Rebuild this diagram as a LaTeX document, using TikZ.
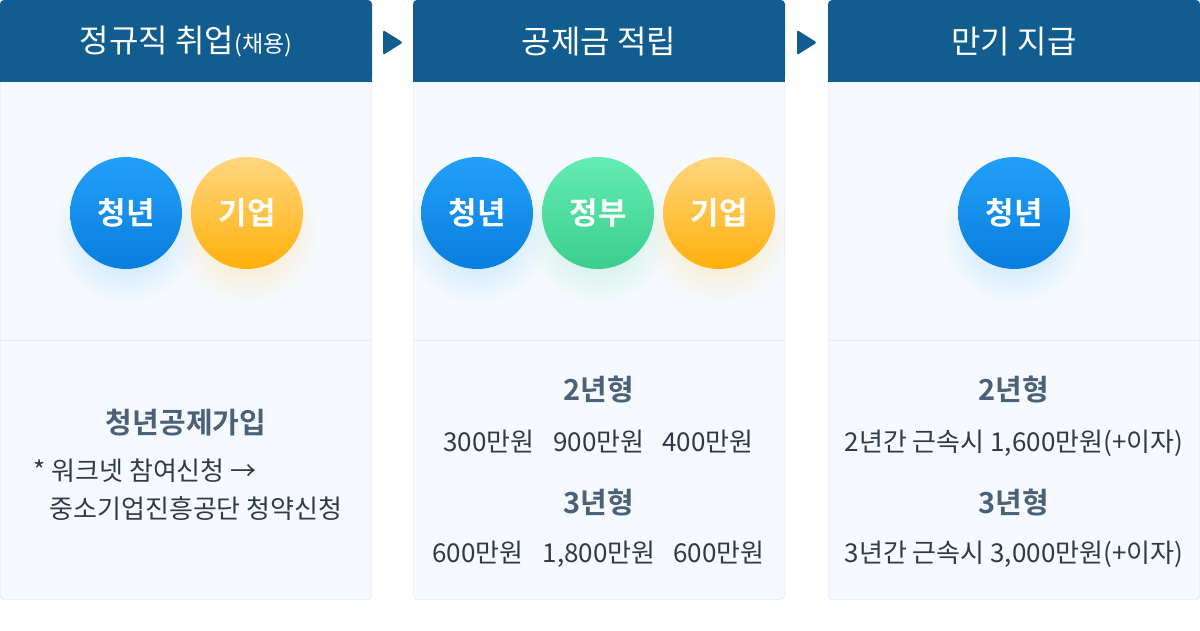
\documentclass[tikz,border=0pt]{standalone}
\usepackage{fontspec}
\setmainfont{Noto Sans CJK KR}[BoldFont={Noto Sans CJK KR Bold}]
\usetikzlibrary{positioning,fadings}

\definecolor{headblue}{RGB}{18,93,143}
\definecolor{bodybg}{RGB}{246,250,254}
\definecolor{bodyline}{RGB}{208,225,238}
\definecolor{divline}{RGB}{224,234,242}
\definecolor{titlegray}{RGB}{74,97,120}
\definecolor{textdark}{RGB}{48,58,70}
\definecolor{blueTop}{RGB}{34,160,248}
\definecolor{blueBot}{RGB}{8,126,222}
\definecolor{greenTop}{RGB}{100,236,180}
\definecolor{greenBot}{RGB}{58,206,140}
\definecolor{orangeTop}{RGB}{255,214,128}
\definecolor{orangeBot}{RGB}{255,176,10}

\tikzfading[name=glowfade, inner color=transparent!0, outer color=transparent!100]

\begin{document}
\begin{tikzpicture}[x=1pt, y=-1pt,
    headtext/.style={text=white, font=\fontsize{32}{36}\selectfont},
    bubble/.style={circle, minimum size=112pt, inner sep=0pt, text=white,
                   font=\bfseries\fontsize{31}{34}\selectfont},
    youth/.style={bubble, top color=blueTop, bottom color=blueBot},
    gov/.style={bubble, top color=greenTop, bottom color=greenBot},
    firm/.style={bubble, top color=orangeTop, bottom color=orangeBot},
    kind/.style={text=titlegray, text height=0.8em, text depth=0.2em,
                 font=\bfseries\fontsize{29}{32}\selectfont},
    amount/.style={text=textdark, text height=0.8em, text depth=0.2em,
                   font=\fontsize{26}{30}\selectfont}]
    \useasboundingbox (0,0) rectangle (1200,631);
    \fill[white] (0,0) rectangle (1200,631);

    % panels: body, divider and header
    \foreach \x in {0,413,828} {
        \draw[bodyline, fill=bodybg, rounded corners=4pt] (\x+0.5,60) rectangle (\x+371.5,599.5);
        \draw[divline] (\x+1,340) -- (\x+371,340);
        \fill[headblue, rounded corners=4pt] (\x,0) rectangle (\x+372,82);
        \fill[headblue] (\x,50) rectangle (\x+372,82);
    }

    % arrows between panels
    \fill[headblue, rounded corners=1.5pt] (383,30) -- (403,42.5) -- (383,55) -- cycle;
    \fill[headblue, rounded corners=1.5pt] (797,30) -- (817,42.5) -- (797,55) -- cycle;

    % header titles
    \node[headtext] (h1) at (186,42) {정규직 취업{\fontsize{23}{26}\selectfont(채용)}};
    \node[headtext] (h2) at (599,42) {공제금 적립};
    \node[headtext] (h3) at (1014,42) {만기 지급};

    % soft glow under the circles
    \foreach \cx/\col in {126/blueTop, 247/orangeBot, 477/blueTop, 598/greenBot, 719/orangeBot, 1014/blueTop}
        \fill[\col, opacity=0.3, path fading=glowfade] (\cx,232) circle (72);

    % circles
    \node[youth] (y1) at (126,213) {청년};
    \node[firm]  (f1) at (247,213) {기업};
    \node[youth] (y2) at (477,213) {청년};
    \node[gov]   (g2) at (598,213) {정부};
    \node[firm]  (f2) at (719,213) {기업};
    \node[youth] (y3) at (1014,213) {청년};

    % panel 1 text
    \node[kind] (join) at (186,430) {청년공제가입};
    \node[amount, anchor=west] (note1) at (30,477) {* 워크넷 참여신청 →};
    \node[amount, anchor=west] (note2) at (46,515) {중소기업진흥공단 청약신청};

    % panel 2 text
    \node[kind] (k2a) at (599,397) {2년형};
    \node[amount] (a2y) at (489,448) {300만원};
    \node[amount] (a2g) at (599,448) {900만원};
    \node[amount] (a2f) at (708,448) {400만원};
    \node[kind] (k2b) at (599,510) {3년형};
    \node[amount] (b2y) at (478,559) {600만원};
    \node[amount] (b2g) at (599,559) {1,800만원};
    \node[amount] (b2f) at (719,559) {600만원};

    % panel 3 text
    \node[kind] (k3a) at (1014,397) {2년형};
    \node[amount] (p3a) at (1014,448) {2년간 근속시 1,600만원(+이자)};
    \node[kind] (k3b) at (1014,510) {3년형};
    \node[amount] (p3b) at (1014,559) {3년간 근속시 3,000만원(+이자)};
\end{tikzpicture}
\end{document}
